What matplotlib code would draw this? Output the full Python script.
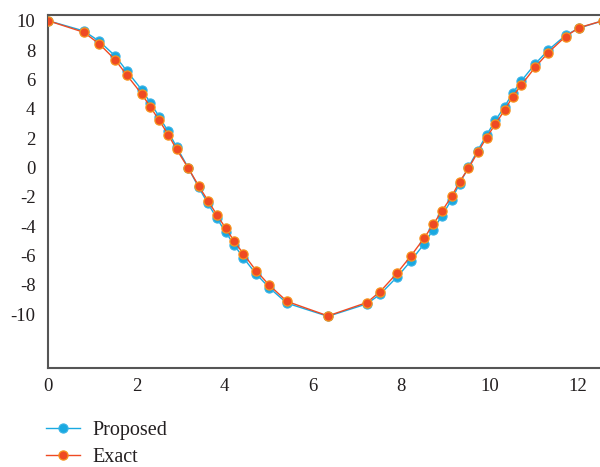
import matplotlib
matplotlib.use("Agg")
import matplotlib.pyplot as plt

x_vals = [0.0, 0.81, 1.16, 1.52, 1.79, 2.12, 2.32, 2.52, 2.72, 2.91, 3.18, 3.41, 3.62,
          3.82, 4.02, 4.22, 4.42, 4.71, 5.01, 5.41, 6.34, 7.22, 7.52, 7.91, 8.21, 8.52,
          8.72, 8.92, 9.14, 9.32, 9.52, 9.73, 9.93, 10.13, 10.34, 10.52, 10.72, 11.03,
          11.33, 11.72, 12.03, 12.57]
exact_vals = [10.0, 9.21, 8.42, 7.34, 6.27, 5.01, 4.11, 3.20, 2.24, 1.24, -0.07, -1.25,
              -2.26, -3.21, -4.13, -5.04, -5.87, -7.03, -8.02, -9.13, -10.12, -9.21, -8.47,
              -7.18, -6.06, -4.81, -3.89, -2.98, -1.98, -0.98, -0.07, 1.02, 2.03, 2.95,
              3.90, 4.81, 5.62, 6.82, 7.83, 8.92, 9.53, 10.0]
proposed_vals = [10.0, 9.30, 8.60, 7.60, 6.55, 5.30, 4.40, 3.45, 2.45, 1.40, -0.05, -1.35,
                 -2.45, -3.45, -4.40, -5.30, -6.15, -7.25, -8.20, -9.25, -10.15, -9.30,
                 -8.65, -7.45, -6.40, -5.20, -4.25, -3.30, -2.20, -1.10, 0.0, 1.15, 2.20,
                 3.20, 4.15, 5.05, 5.90, 7.05, 8.00, 9.00, 9.50, 10.0]
x_ticks = [0, 2, 4, 6, 8, 10, 12]
y_ticks = [10, 8, 6, 4, 2, 0, -2, -4, -6, -8, -10]

plt.rcParams['font.family'] = ['Liberation Serif', 'DejaVu Serif']
plt.rcParams['axes.unicode_minus'] = False

fig = plt.figure(figsize=(6, 4.67), dpi=100)
ax = fig.add_axes([0.08, 0.212, 0.92, 0.756])

blue = '#19a9e1'
orange = '#ef4a23'
ax.plot(x_vals, proposed_vals, color=blue, lw=1.0, marker='o', markersize=6.6,
        markerfacecolor=blue, markeredgecolor='#3bb4e6', markeredgewidth=0.8,
        label='Proposed', zorder=3)
ax.plot(x_vals, exact_vals, color=orange, lw=1.0, marker='o', markersize=6.6,
        markerfacecolor=orange, markeredgecolor='#f7941d', markeredgewidth=0.9,
        label='Exact', zorder=4)

ax.set_xlim(0, 12.5)
ax.set_ylim(-13.67, 10.39)
ax.set_xticks(x_ticks)
ax.set_yticks(y_ticks)
ax.tick_params(length=0, labelsize=13.5, colors='#231f20', pad=7)
ax.tick_params(axis='y', pad=9)
for s in ['left', 'top', 'bottom']:
    ax.spines[s].set_color('#555555')
    ax.spines[s].set_linewidth(1.5)
ax.spines['right'].set_visible(False)

fig.legend(loc='upper left', bbox_to_anchor=(0.076, 0.099), frameon=False,
           fontsize=14.5, handlelength=1.7, handletextpad=0.65, labelspacing=0.38,
           borderaxespad=0, borderpad=0, labelcolor='#231f20')

fig.savefig('out.png', dpi=100)
